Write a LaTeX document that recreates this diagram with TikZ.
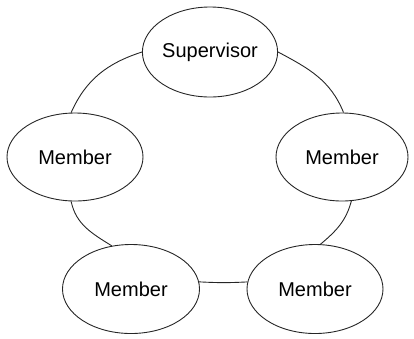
\documentclass[tikz,border=0pt]{standalone}
\usepackage{fontspec}
\setmainfont{Liberation Sans}
\usetikzlibrary{shapes.geometric}
\begin{document}
\begin{tikzpicture}[x=1pt,y=1pt,
  oval/.style={draw=black!85, line width=0.9pt, ellipse, inner sep=0pt,
    font=\fontsize{20}{22}\selectfont},
  link/.style={draw=black!85, line width=0.9pt}]
\useasboundingbox (0,0) rectangle (414,-338);
\node[oval, minimum width=135, minimum height=90] (sup) at (210,-52) {Supervisor};
\node[oval, minimum width=136, minimum height=88] (m1) at (75,-157) {Member};
\node[oval, minimum width=132, minimum height=88] (m2) at (342,-157) {Member};
\node[oval, minimum width=137, minimum height=89] (m3) at (131,-289) {Member};
\node[oval, minimum width=136, minimum height=89] (m4) at (315,-289) {Member};
\draw[link] (sup.west) to[out=198, in=66] (m1.95);
\draw[link] (sup.east) to[out=-28, in=112] (m2.88);
\draw[link] (m1.-95) to[out=-78, in=148] (m3.114);
\draw[link] (m2.-78) to[out=-105, in=40] (m4.83);
\draw[link] (m3.6) to[out=-3, in=183] (m4.174);
\end{tikzpicture}
\end{document}
